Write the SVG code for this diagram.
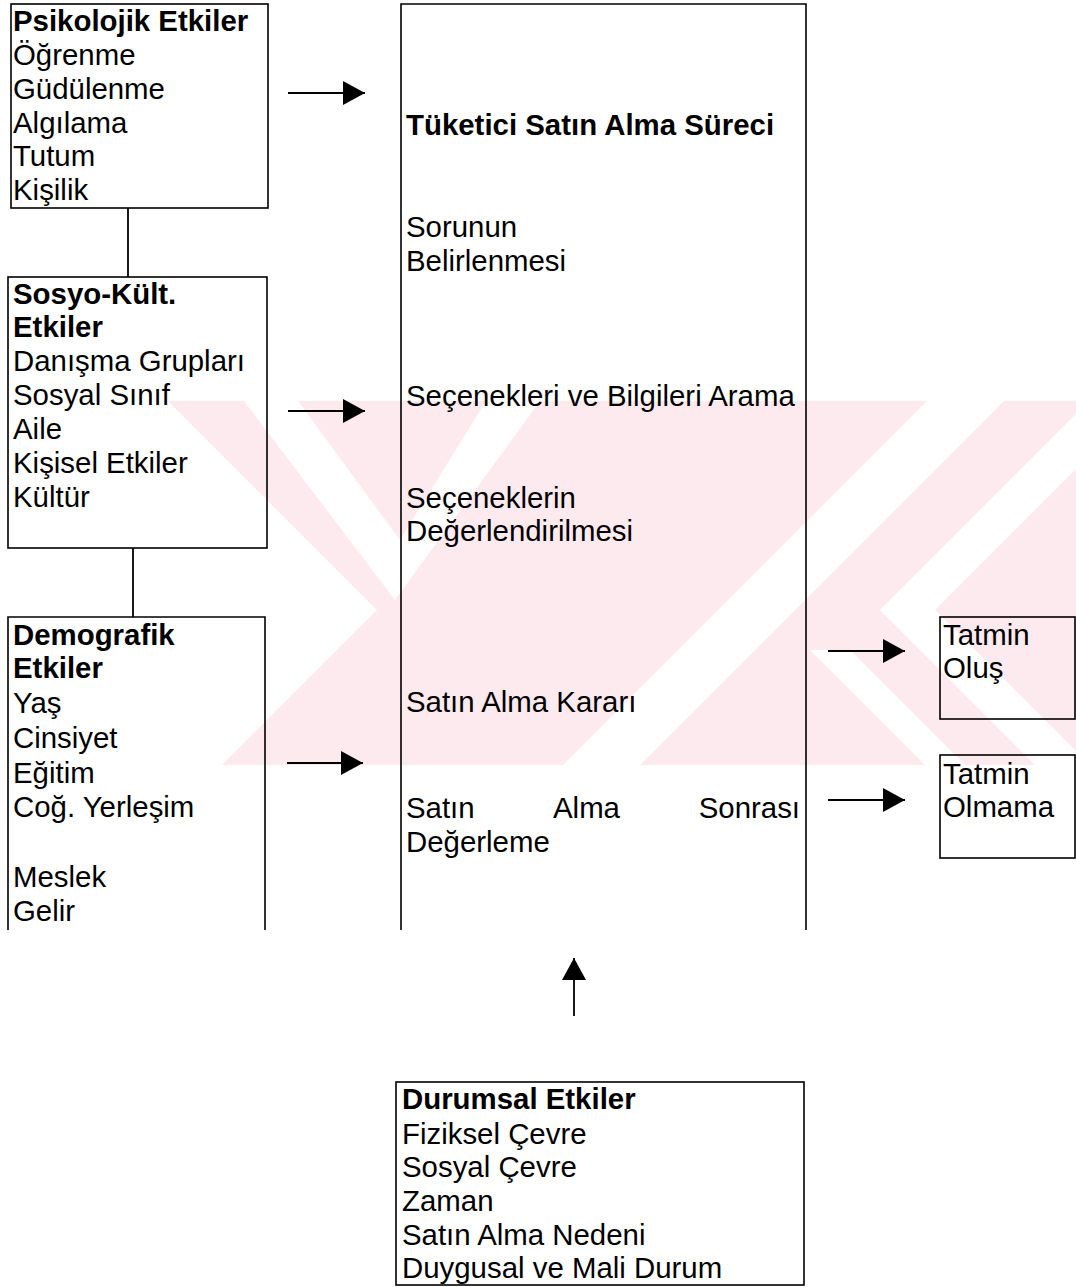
<svg xmlns="http://www.w3.org/2000/svg" width="1076" height="1287" viewBox="0 0 1076 1287">
<style>
.box{fill:none;stroke:#000;stroke-width:1.6}
.t{font-family:"Liberation Sans",Arial,sans-serif;font-size:29.4px;fill:#000}
.b{font-weight:bold}
.conn{stroke:#000;stroke-width:1.8;fill:none}
.wm{fill:#fdeaee}
.wmw{fill:#fff}
</style>
<defs>
<marker id="ah" markerUnits="userSpaceOnUse" markerWidth="22" markerHeight="24" refX="22" refY="12" orient="auto">
<path d="M0,0 L22,12 L0,24 z" fill="#000"/>
</marker>
<clipPath id="wmclip"><rect x="0" y="401" width="1076" height="364"/></clipPath>
</defs>
<rect width="1076" height="1287" fill="#fff"/>
<g id="watermark" clip-path="url(#wmclip)">
<polygon class="wm" points="168,401 1076,401 1076,765 222,765 377,610"/>
<polygon class="wmw" points="244,401 395,600 540,401 486,401 400,540 298,401"/>
<polygon class="wmw" points="927,401 1004,401 640,765 563,765"/>
<polygon class="wmw" points="1076,414 880,610 1076,806 1076,751 935,610 1076,469"/>
<polygon class="wmw" points="810,650 850,650 965,765 925,765"/>
</g>
<g id="connectors">
<path class="conn" d="M128,208 V277"/>
<path class="conn" d="M133,548 V617"/>
<path class="conn" d="M288,93 H365" marker-end="url(#ah)"/>
<path class="conn" d="M288,411 H365" marker-end="url(#ah)"/>
<path class="conn" d="M287,763 H363" marker-end="url(#ah)"/>
<path class="conn" d="M828,651 H905" marker-end="url(#ah)"/>
<path class="conn" d="M828,800 H905" marker-end="url(#ah)"/>
<path class="conn" d="M574,1016 V958" marker-end="url(#ah)"/>
</g>
<g id="psikolojik">
<rect class="box" x="11" y="4" width="257" height="204"/>
<text class="t b" x="13" y="31">Psikolojik Etkiler</text>
<text class="t" x="13" y="65">Öğrenme</text>
<text class="t" x="13" y="99">Güdülenme</text>
<text class="t" x="13" y="133">Algılama</text>
<text class="t" x="13" y="166">Tutum</text>
<text class="t" x="13" y="200">Kişilik</text>
</g>
<g id="sosyo">
<rect class="box" x="8" y="277" width="259" height="271"/>
<text class="t b" x="13" y="304">Sosyo-Kült.</text>
<text class="t b" x="13" y="337">Etkiler</text>
<text class="t" x="13" y="371">Danışma Grupları</text>
<text class="t" x="13" y="405">Sosyal Sınıf</text>
<text class="t" x="13" y="439">Aile</text>
<text class="t" x="13" y="473">Kişisel Etkiler</text>
<text class="t" x="13" y="507">Kültür</text>
</g>
<g id="demografik">
<path class="box" d="M8,930 V617 H265 V930"/>
<text class="t b" x="13" y="645">Demografik</text>
<text class="t b" x="13" y="678">Etkiler</text>
<text class="t" x="13" y="713">Yaş</text>
<text class="t" x="13" y="748">Cinsiyet</text>
<text class="t" x="13" y="783">Eğitim</text>
<text class="t" x="13" y="817">Coğ. Yerleşim</text>
<text class="t" x="13" y="887">Meslek</text>
<text class="t" x="13" y="921">Gelir</text>
</g>
<g id="surec">
<path class="box" d="M401,930 V4 H806 V930"/>
<text class="t b" x="406" y="135">Tüketici Satın Alma Süreci</text>
<text class="t" x="406" y="237">Sorunun</text>
<text class="t" x="406" y="271">Belirlenmesi</text>
<text class="t" x="406" y="406">Seçenekleri ve Bilgileri Arama</text>
<text class="t" x="406" y="508">Seçeneklerin</text>
<text class="t" x="406" y="541">Değerlendirilmesi</text>
<text class="t" x="406" y="712">Satın Alma Kararı</text>
<text class="t" y="818"><tspan x="406">Satın</tspan><tspan x="553">Alma</tspan><tspan x="800" text-anchor="end">Sonrası</tspan></text>
<text class="t" x="406" y="852">Değerleme</text>
</g>
<g id="tatmin-olus">
<rect class="box" x="940" y="617" width="135" height="102"/>
<text class="t" x="943" y="645">Tatmin</text>
<text class="t" x="943" y="678">Oluş</text>
</g>
<g id="tatmin-olmama">
<rect class="box" x="940" y="755" width="135" height="103"/>
<text class="t" x="943" y="784">Tatmin</text>
<text class="t" x="943" y="817">Olmama</text>
</g>
<g id="durumsal">
<rect class="box" x="396" y="1082" width="408" height="203"/>
<text class="t b" x="402" y="1109">Durumsal Etkiler</text>
<text class="t" x="402" y="1144">Fiziksel Çevre</text>
<text class="t" x="402" y="1177">Sosyal Çevre</text>
<text class="t" x="402" y="1211">Zaman</text>
<text class="t" x="402" y="1245">Satın Alma Nedeni</text>
<text class="t" x="402" y="1278">Duygusal ve Mali Durum</text>
</g>
</svg>
